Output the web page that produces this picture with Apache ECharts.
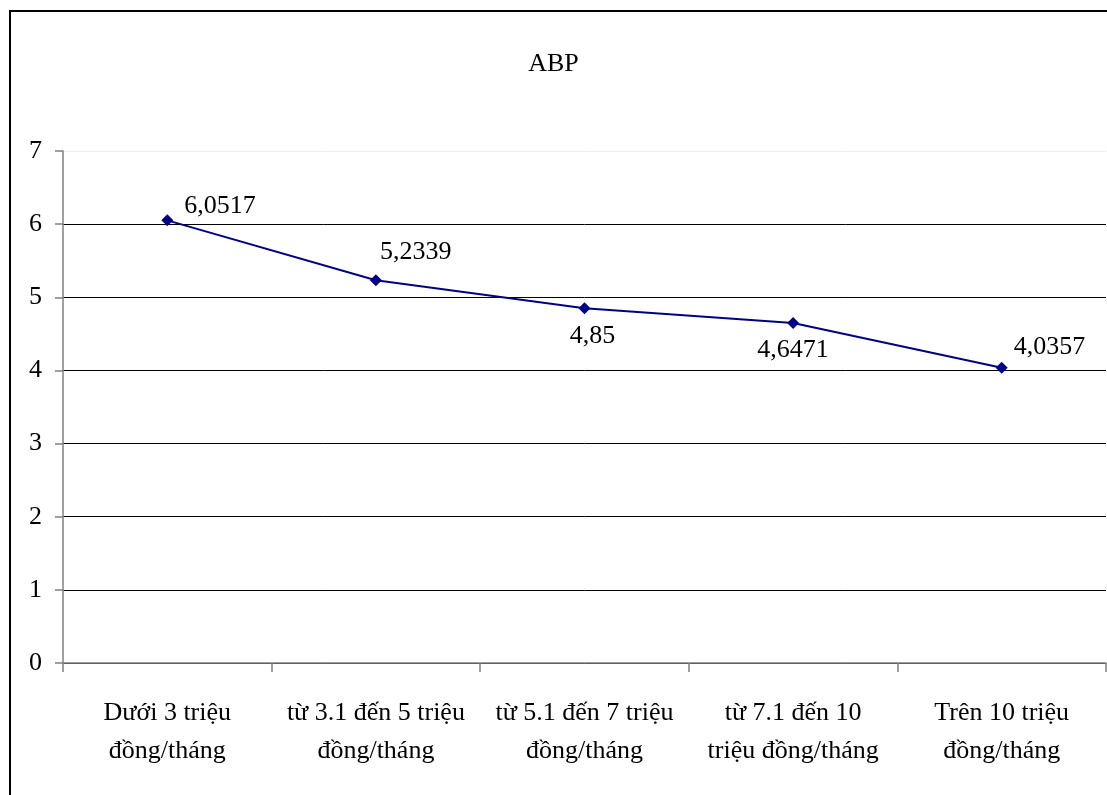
<!DOCTYPE html>
<html>
<head>
<meta charset="utf-8">
<script src="https://cdn.jsdelivr.net/npm/echarts@6/dist/echarts.min.js"></script>
<style>html,body{margin:0;padding:0;background:#fff}#c{width:1107px;height:795px}</style>
</head>
<body>
<div id="c"></div>
<script>
const chartTitle = 'ABP';
const categories = [
  'Dưới 3 triệu\nđồng/tháng',
  'từ 3.1 đến 5 triệu\nđồng/tháng',
  'từ 5.1 đến 7 triệu\nđồng/tháng',
  'từ 7.1 đến 10\ntriệu đồng/tháng',
  'Trên 10 triệu\nđồng/tháng'
];
const values = [6.0517, 5.2339, 4.85, 4.6471, 4.0357];
const valueLabels = ['6,0517', '5,2339', '4,85', '4,6471', '4,0357'];
const yTicks = [0, 1, 2, 3, 4, 5, 6, 7];

const FONT = '"Liberation Serif", "Times New Roman", serif';
const labelStyles = [
  {position: 'right', distance: 11, offset: [0, -14]},
  {position: 'right', distance: 2, offset: [-4, -28]},
  {position: 'bottom', distance: 9, offset: [8, 0]},
  {position: 'bottom', distance: 8, offset: [0, 0]},
  {position: 'right', distance: 6, offset: [0, -21]}
];

const gridColors = yTicks.map((t, i) => i === yTicks.length - 1 ? '#ececec' : '#000');

const chart = echarts.init(document.getElementById('c'), null, {renderer: 'canvas'});
chart.setOption({
  backgroundColor: '#fff',
  animation: false,
  title: {
    text: chartTitle, left: 'center', top: 46,
    textStyle: {fontFamily: FONT, fontSize: 26, fontWeight: 'normal', color: '#000'}
  },
  graphic: [{
    type: 'rect', shape: {x: 10, y: 11, width: 1200, height: 900},
    style: {fill: 'none', stroke: '#000', lineWidth: 2}, z: 10, silent: true
  }],
  grid: {left: 63, right: 1, top: 151, bottom: 132},
  xAxis: {
    type: 'category', data: categories, boundaryGap: true,
    axisLine: {lineStyle: {color: '#808080', width: 1.5}},
    axisTick: {show: true, inside: false, length: 9, alignWithLabel: false, lineStyle: {color: '#808080', width: 1.5}},
    axisLabel: {interval: 0, margin: 31, fontFamily: FONT, fontSize: 26, lineHeight: 38, color: '#000', align: 'center'}
  },
  yAxis: {
    type: 'value', min: yTicks[0], max: yTicks[yTicks.length - 1], interval: 1,
    axisLine: {show: true, lineStyle: {color: '#808080', width: 1.5}},
    axisTick: {show: true, length: 8, lineStyle: {color: '#808080', width: 1.5}},
    axisLabel: {margin: 21, fontFamily: FONT, fontSize: 26, color: '#000'},
    splitLine: {show: true, lineStyle: {color: gridColors, width: 1}}
  },
  series: [{
    type: 'line',
    data: values.map((v, i) => ({
      value: v,
      label: Object.assign({show: true, formatter: valueLabels[i], fontFamily: FONT, fontSize: 26, color: '#000'}, labelStyles[i])
    })),
    symbol: 'diamond', symbolSize: 12,
    lineStyle: {color: '#000080', width: 2},
    itemStyle: {color: '#000080'},
    z: 5
  }]
});
</script>
</body>
</html>
